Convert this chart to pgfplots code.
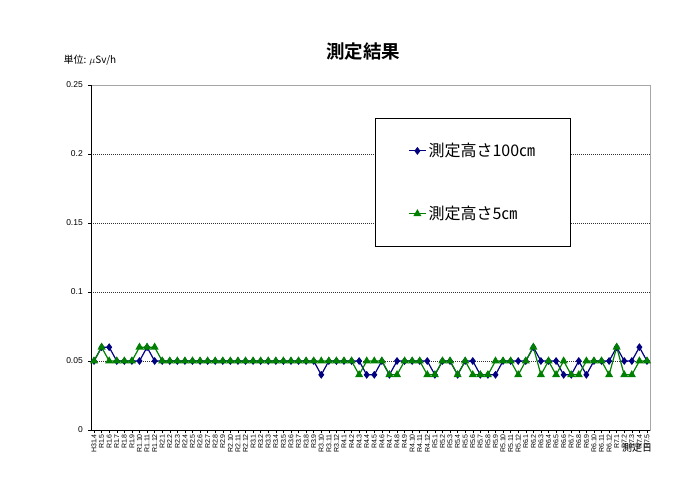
\documentclass[border=0pt]{standalone}
\usepackage{fontspec}
\usepackage{pgfplots}
\usepackage{pgfplotstable}
\pgfplotsset{compat=1.18}
\setmainfont{Liberation Sans}
\newfontfamily\cjk{Noto Sans CJK JP}[BoldFont=Noto Sans CJK JP Bold]
\definecolor{navyline}{RGB}{0,0,128}
\definecolor{greenline}{RGB}{0,128,0}

% idx: month index from H31.4 ; h100 = 100cm, h5 = 5cm (uSv/h)
\pgfplotstableread{
idx h100 h5
0  0.05 0.05
1  0.06 0.06
2  0.06 0.05
3  0.05 0.05
4  0.05 0.05
5  0.05 0.05
6  0.05 0.06
7  0.06 0.06
8  0.05 0.06
9  0.05 0.05
10 0.05 0.05
11 0.05 0.05
12 0.05 0.05
13 0.05 0.05
14 0.05 0.05
15 0.05 0.05
16 0.05 0.05
17 0.05 0.05
18 0.05 0.05
19 0.05 0.05
20 0.05 0.05
21 0.05 0.05
22 0.05 0.05
23 0.05 0.05
24 0.05 0.05
25 0.05 0.05
26 0.05 0.05
27 0.05 0.05
28 0.05 0.05
29 0.05 0.05
30 0.04 0.05
31 0.05 0.05
32 0.05 0.05
33 0.05 0.05
34 0.05 0.05
35 0.05 0.04
36 0.04 0.05
37 0.04 0.05
38 0.05 0.05
39 0.04 0.04
40 0.05 0.04
41 0.05 0.05
42 0.05 0.05
43 0.05 0.05
44 0.05 0.04
45 0.04 0.04
46 0.05 0.05
47 0.05 0.05
48 0.04 0.04
49 0.05 0.05
50 0.05 0.04
51 0.04 0.04
52 0.04 0.04
53 0.04 0.05
54 0.05 0.05
55 0.05 0.05
56 0.05 0.04
57 0.05 0.05
58 0.06 0.06
59 0.05 0.04
60 0.05 0.05
61 0.05 0.04
62 0.04 0.05
63 0.04 0.04
64 0.05 0.04
65 0.04 0.05
66 0.05 0.05
67 0.05 0.05
68 0.05 0.04
69 0.06 0.06
70 0.05 0.04
71 0.05 0.04
72 0.06 0.05
73 0.05 0.05
}\dosedata

\begin{document}
\begin{tikzpicture}
\path[use as bounding box] (0,0) rectangle (690pt,479pt);
\begin{axis}[
  at={(91pt,49pt)}, anchor=south west,
  scale only axis, width=559pt, height=345pt,
  xmin=-0.4, xmax=73.4, ymin=0, ymax=0.25,
  ytick={0,0.05,0.1,0.15,0.2,0.25},
  yticklabels={0,0.05,0.1,0.15,0.2,0.25},
  xtick={0,...,73},
  xticklabels={H31.4,R1.5,R1.6,R1.7,R1.8,R1.9,R1.10,R1.11,R1.12,
    R2.1,R2.2,R2.3,R2.4,R2.5,R2.6,R2.7,R2.8,R2.9,R2.10,R2.11,R2.12,
    R3.1,R3.2,R3.3,R3.4,R3.5,R3.6,R3.7,R3.8,R3.9,R3.10,R3.11,R3.12,
    R4.1,R4.2,R4.3,R4.4,R4.5,R4.6,R4.7,R4.8,R4.9,R4.10,R4.11,R4.12,
    R5.1,R5.2,R5.3,R5.4,R5.5,R5.6,R5.7,R5.8,R5.9,R5.10,R5.11,R5.12,
    R6.1,R6.2,R6.3,R6.4,R6.5,R6.6,R6.7,R6.8,R6.9,R6.10,R6.11,R6.12,
    R7.1,R7.2,R7.3,R7.4,R7.5},
  xticklabel style={rotate=90, anchor=east, inner sep=1pt,
    font=\fontsize{7}{7}\selectfont},
  yticklabel style={font=\fontsize{8.5}{10}\selectfont, inner sep=1pt, xshift=-4pt},
  xtick pos=bottom, ytick pos=left,
  tick align=outside, major tick length=3pt,
  tick style={black, line width=0.5pt},
  ymajorgrids,
  grid style={black!80, line width=0.5pt, dash pattern=on 1pt off 1pt},
  axis line style={gray!70, line width=0.6pt},
  legend style={at={(0.508,0.904)}, anchor=north west, draw=black,
    line width=0.6pt, inner xsep=33pt, inner ysep=23pt, row sep=44pt,
    font=\cjk\fontsize{16}{18}\selectfont, cells={anchor=west}},
]
\addplot[navyline, line width=1.2pt, mark=diamond*, mark size=3pt]
  table[x=idx, y=h100] {\dosedata};
\addplot[greenline, line width=1.2pt, mark=triangle*, mark size=3.5pt]
  table[x=idx, y=h5] {\dosedata};
\legend{測定高さ100㎝, 測定高さ5㎝}
\draw[black, line width=0.8pt] (rel axis cs:0,1) -- (rel axis cs:0,0) -- (rel axis cs:1,0);
\end{axis}
\node[font=\cjk\bfseries\fontsize{18.5}{20}\selectfont] at (363pt,427pt) {測定結果};
\node[anchor=west, font=\cjk\fontsize{10}{12}\selectfont] at (60pt,419pt) {単位: $\mu$Sv/h};
\node[font=\cjk\fontsize{10}{12}\selectfont, inner sep=0.5pt] at (637pt,31pt) {測定日};
\end{tikzpicture}
\end{document}
